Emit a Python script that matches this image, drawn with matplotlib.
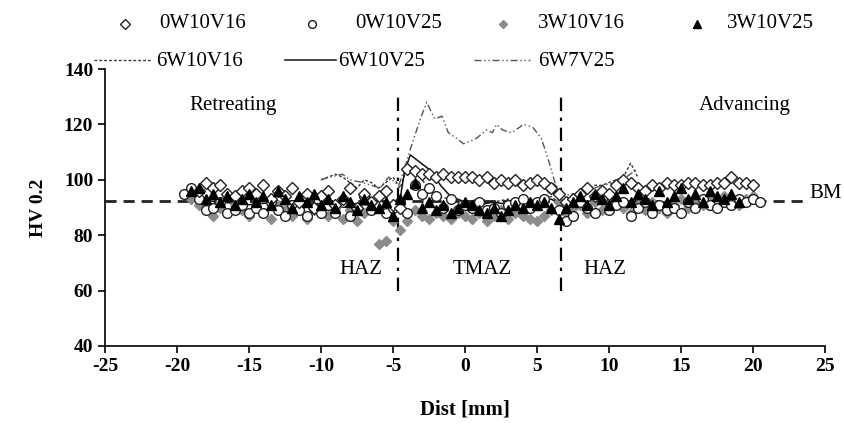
import numpy as np
import matplotlib
matplotlib.use("Agg")
import matplotlib.pyplot as plt
from matplotlib.lines import Line2D

plt.rcParams["font.family"] = ["Liberation Serif", "DejaVu Serif"]
plt.rcParams["axes.unicode_minus"] = False

nan = np.nan

# measurement positions (mm)
dist = [-19.5, -19.0, -18.5, -18.0, -17.5, -17.0, -16.5, -16.0, -15.5, -15.0,
        -14.5, -14.0, -13.5, -13.0, -12.5, -12.0, -11.5, -11.0, -10.5, -10.0,
        -9.5, -9.0, -8.5, -8.0, -7.5, -7.0, -6.5, -6.0, -5.5, -5.0,
        -4.5, -4.0, -3.5, -3.0, -2.5, -2.0, -1.5, -1.0, -0.5, 0.0,
        0.5, 1.0, 1.5, 2.0, 2.5, 3.0, 3.5, 4.0, 4.5, 5.0,
        5.5, 6.0, 6.5, 7.0, 7.5, 8.0, 8.5, 9.0, 9.5, 10.0,
        10.5, 11.0, 11.5, 12.0, 12.5, 13.0, 13.5, 14.0, 14.5, 15.0,
        15.5, 16.0, 16.5, 17.0, 17.5, 18.0, 18.5, 19.0, 19.5, 20.0,
        20.5]

hv_0w10v16 = [nan, nan, 96, 99, 97, 98, 95, 94, 96, 97,
              95, 98, 93, 96, 94, 97, 92, 95, 90, 94,
              96, 91, 93, 97, 90, 95, 92, 94, 96, 91,
              90, 104, 103, 102, 102, 101, 102, 101, 101, 101,
              101, 100, 101, 99, 100, 99, 100, 98, 99, 100,
              99, 97, 95, 92, 93, 95, 97, 94, 96, 95,
              98, 100, 99, 97, 96, 98, 97, 99, 98, 98,
              99, 99, 98, 98, 99, 99, 101, 99, 99, 98,
              nan]

hv_0w10v25 = [95, 97, 93, 89, 90, 92, 88, 89, 91, 88,
              90, 88, 92, 89, 87, 91, 89, 87, 90, 88,
              91, 88, 92, 87, 90, 94, 89, 91, 88, 90,
              92, 88, 98, 95, 97, 94, 90, 93, 89, 91,
              90, 92, 89, 90, 88, 91, 92, 93, 90, 92,
              93, 97, 89, 85, 87, 92, 90, 88, 93, 89,
              91, 92, 87, 90, 92, 88, 91, 89, 90, 88,
              92, 90, 93, 91, 90, 92, 91, 93, 92, 93,
              92]

hv_3w10v16 = [nan, 93, 91, 89, 87, 90, 88, 91, 89, 87,
              90, 88, 86, 91, 89, 87, 90, 86, 89, 88,
              87, 90, 86, 89, 85, 88, 90, 77, 78, 85,
              82, 85, 89, 87, 86, 88, 87, 86, 88, 87,
              86, 88, 85, 87, 89, 86, 88, 87, 86, 85,
              87, 89, 92, 88, 90, 91, 88, 92, 89, 91,
              93, 90, 88, 91, 89, 92, 90, 88, 91, 93,
              90, 92, 91, 93, 90, 94, 92, 91, 93, 94,
              nan]

hv_3w10v25 = [nan, 96, 97, 93, 95, 92, 94, 91, 93, 95,
              92, 94, 91, 96, 93, 90, 94, 92, 95, 91,
              93, 90, 94, 92, 89, 93, 91, 90, 92, 87,
              93, 95, 99, 90, 92, 89, 91, 88, 90, 92,
              91, 89, 88, 90, 87, 89, 91, 90, 92, 91,
              92, 90, 86, 90, 92, 94, 91, 95, 93, 91,
              94, 97, 92, 95, 93, 91, 96, 92, 94, 97,
              93, 95, 92, 96, 94, 93, 95, 92, nan, nan,
              nan]

x_6w10v16 = [-10, -9.5, -9, -8.5, -8, -7.5, -7, -6.5, -6, -5.5, -5, -4.5, -4,
             -3.5, -3, -2.5, -2, -1, 0, 1, 2, 3, 4, 5, 6, 6.7, 7.5, 8, 8.5,
             9, 9.5, 10, 10.5, 11, 11.5, 12]
hv_6w10v16 = [100, 101, 102, 101, 99, 97, 100, 99, 97, 99, 101, 97, 105,
              104, 100, 97, 94, 93, 92, 93, 92, 93, 92, 93, 94, 91, 93, 95, 96,
              98, 98, 99, 100, 101, 106, 101]

x_6w10v25 = [-19, -17, -15, -13, -11, -9, -7, -5.5, -4.6, -4.2, -3.8, -3.3,
             -2.8, -2.3, -1.7, -1, 0, 1, 2, 3, 4, 5, 6, 6.7, 8, 10, 12, 14,
             16, 18, 20]
hv_6w10v25 = [93, 92, 91, 92, 91, 92, 91, 91, 90, 103, 109, 107,
              105, 103, 98, 94, 92, 91, 92, 91, 92, 92, 93, 91, 92, 93, 92, 92,
              93, 92, 92]

x_6w7v25 = [-10, -9.4, -8.5, -8, -7.1, -6.5, -5.9, -5.3, -4.6, -4.2, -3.8,
            -3.1, -2.66, -2.3, -2.08, -1.6, -1.16, -0.6, -0.1, 0.4, 0.8, 1.5,
            1.9, 2.2, 2.6, 3.24, 3.8, 4.05, 4.7, 5.3, 5.8, 6.25, 6.7, 7.5, 8.5,
            9.5, 10.5, 11.2, 12]
hv_6w7v25 = [100, 101, 102, 100, 99, 98, 97, 101, 98, 104, 111,
             122, 128, 124, 122, 123, 117, 115, 113, 114, 115, 118,
             117, 120, 118, 117, 119, 120, 119, 115, 107, 99, 94, 95, 96,
             98, 99, 101, 104]

bm_level = 92.5
zone_bounds = [-4.65, 6.7]

W, H = 844, 432
fig = plt.figure(figsize=(W / 100, H / 100), dpi=100)
ax = fig.add_axes([105 / W, 1 - 346 / H, 720 / W, 277 / H])

style_16 = dict(color="#333333", lw=1.0, ls=(0, (2, 1.5)))
style_25 = dict(color="#111111", lw=1.1, ls="-")
style_7 = dict(color="#555555", lw=1.0, ls=(0, (5, 2, 1, 2, 1, 2)))

ax.plot(x_6w10v16, hv_6w10v16, zorder=2, **style_16)
ax.plot(x_6w10v25, hv_6w10v25, zorder=2, **style_25)
ax.plot(x_6w7v25, hv_6w7v25, zorder=2, **style_7)

m_gray = dict(ls="none", marker="D", ms=5, color="#8c8c8c", mec="#8c8c8c")
m_circ = dict(ls="none", marker="o", ms=7, mfc="white", mec="#222222", mew=1.0)
m_diam = dict(ls="none", marker="D", ms=6, mfc="white", mec="#222222", mew=1.0)
m_tri = dict(ls="none", marker="^", ms=6.5, color="black")

ax.plot(dist, hv_3w10v16, zorder=3, **m_gray)
ax.plot(dist, hv_0w10v25, zorder=4, **m_circ)
ax.plot(dist, hv_0w10v16, zorder=5, **m_diam)
ax.plot(dist, hv_3w10v25, zorder=6, **m_tri)

ax.plot([-25, 23.5], [bm_level, bm_level], color="#222222", lw=2.0,
        ls=(0, (4, 2.5)), zorder=1)
for xb in zone_bounds:
    ax.plot([xb, xb], [60, 130], color="black", lw=1.6, ls=(0, (6, 3, 1.5, 3)),
            zorder=1)

fs = 15
ax.text(-16.1, 127, "Retreating", fontsize=fs, ha="center", va="center")
ax.text(19.4, 127, "Advancing", fontsize=fs, ha="center", va="center")
ax.text(-7.2, 67.5, "HAZ", fontsize=fs, ha="center", va="center")
ax.text(1.2, 67.5, "TMAZ", fontsize=fs, ha="center", va="center")
ax.text(9.7, 67.5, "HAZ", fontsize=fs, ha="center", va="center")
ax.text(23.9, 95, "BM", fontsize=fs, ha="left", va="center", clip_on=False)

ax.set_xlim(-25, 25)
ax.set_ylim(40, 140)
ax.set_xticks(range(-25, 26, 5))
ax.set_yticks(range(40, 141, 20))
for side in ("top", "right"):
    ax.spines[side].set_visible(False)
ax.spines["left"].set_linewidth(1.2)
ax.spines["bottom"].set_linewidth(1.2)
ax.tick_params(direction="out", length=5, width=1.2, labelsize=14)
for lab in ax.get_xticklabels() + ax.get_yticklabels():
    lab.set_fontweight("bold")
ax.set_xlabel("Dist [mm]", fontsize=15, fontweight="bold", labelpad=18)
ax.set_ylabel("HV 0.2", fontsize=14, fontweight="bold", labelpad=12)

# legend laid out by hand, in figure pixels
def fx(px):
    return px / W

def fy(py):
    return 1 - py / H

row1_y = 24
for mx, tx, lab, style in [(125, 159, "0W10V16", m_diam),
                           (312, 355, "0W10V25", m_circ),
                           (503, 538, "3W10V16", m_gray),
                           (697, 727, "3W10V25", m_tri)]:
    kw = dict(style)
    kw["ms"] = kw["ms"] * 0.8
    fig.add_artist(Line2D([fx(mx)], [fy(row1_y)], transform=fig.transFigure, **kw))
    fig.text(fx(tx), fy(row1_y), lab, fontsize=fs, ha="left", va="center")

row2_y = 62
for x0, x1, tx, lab, style in [(94, 152, 156, "6W10V16", style_16),
                               (285, 336, 338, "6W10V25", style_25),
                               (474, 530, 538, "6W7V25", style_7)]:
    fig.add_artist(Line2D([fx(x0), fx(x1)], [fy(row2_y - 2), fy(row2_y - 2)],
                          transform=fig.transFigure, **style))
    fig.text(fx(tx), fy(row2_y), lab, fontsize=fs, ha="left", va="center")

fig.savefig("out.png", dpi=100)
